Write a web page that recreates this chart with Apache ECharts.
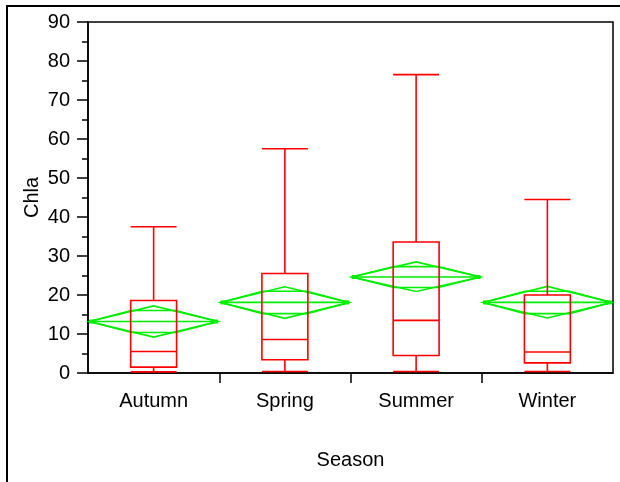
<!DOCTYPE html>
<html>
<head>
<meta charset="utf-8">
<script src="https://cdn.jsdelivr.net/npm/echarts@6/dist/echarts.min.js"></script>
<style>html,body{margin:0;padding:0;background:#fff;}#chart{width:620px;height:482px;}</style>
</head>
<body>
<div id="chart"></div>
<script>
var categories = ['Autumn', 'Spring', 'Summer', 'Winter'];
var boxMin = [0.3, 0.4, 0.4, 0.4];
var boxQ1 = [1.5, 3.4, 4.5, 2.6];
var boxMedian = [5.5, 8.6, 13.5, 5.4];
var boxQ3 = [18.6, 25.5, 33.6, 20.0];
var boxMax = [37.5, 57.5, 76.5, 44.5];
var means = [13.2, 18.1, 24.6, 18.1];
var ciLower = [9.2, 14.0, 20.9, 14.1];
var ciUpper = [17.2, 22.1, 28.5, 22.2];
var yTicks = [0, 10, 20, 30, 40, 50, 60, 70, 80, 90];

var RED = '#ff0000';
var GREEN = '#00ee00';
var FONT = "'Liberation Sans', Arial, sans-serif";

var boxData = categories.map(function (c, i) {
  return [i + 0.5, boxMin[i], boxQ1[i], boxMedian[i], boxQ3[i], boxMax[i]];
});
var diamondData = categories.map(function (c, i) {
  return [i + 0.5, means[i], ciLower[i], ciUpper[i]];
});

function line(x1, y1, x2, y2, color) {
  return { type: 'line', shape: { x1: x1, y1: y1, x2: x2, y2: y2 },
    style: { stroke: color, lineWidth: 1.6 } };
}

function renderBox(params, api) {
  var x = api.value(0);
  var half = api.size([0.175, 0])[0];
  var cx = api.coord([x, 0])[0];
  var yMin = api.coord([x, api.value(1)])[1];
  var yQ1 = api.coord([x, api.value(2)])[1];
  var yMed = api.coord([x, api.value(3)])[1];
  var yQ3 = api.coord([x, api.value(4)])[1];
  var yMax = api.coord([x, api.value(5)])[1];
  return { type: 'group', children: [
    { type: 'rect', shape: { x: cx - half, y: yQ3, width: 2 * half, height: yQ1 - yQ3 },
      style: { fill: null, stroke: RED, lineWidth: 1.6 } },
    line(cx - half, yMed, cx + half, yMed, RED),
    line(cx, yQ3, cx, yMax, RED),
    line(cx, yQ1, cx, yMin, RED),
    line(cx - half, yMax, cx + half, yMax, RED),
    line(cx - half, yMin, cx + half, yMin, RED)
  ]};
}

function renderDiamond(params, api) {
  var x = api.value(0);
  var m = api.value(1), lo = api.value(2), hi = api.value(3);
  var cx = api.coord([x, m])[0];
  var ym = api.coord([x, m])[1];
  var hw = api.size([0.49, 0])[0];
  var ow = api.size([0.17, 0])[0];
  var yHi = api.coord([x, hi])[1];
  var yLo = api.coord([x, lo])[1];
  var d = (hi - lo) / 2 / Math.SQRT2;
  var yOvHi = api.coord([x, m + d])[1];
  var yOvLo = api.coord([x, m - d])[1];
  var L = cx - hw, R = cx + hw;
  return { type: 'group', children: [
    { type: 'polygon', shape: { points: [[L, ym], [cx, yHi], [R, ym], [cx, yLo]] },
      style: { fill: null, stroke: GREEN, lineWidth: 1.6 } },
    { type: 'polyline', shape: { points: [[L, ym], [cx - ow, yOvHi], [cx + ow, yOvHi], [R, ym]] },
      style: { fill: null, stroke: GREEN, lineWidth: 1.6 } },
    { type: 'polyline', shape: { points: [[L, ym], [cx - ow, yOvLo], [cx + ow, yOvLo], [R, ym]] },
      style: { fill: null, stroke: GREEN, lineWidth: 1.6 } },
    line(L, ym, R, ym, GREEN),
    { type: 'rect', shape: { x: L, y: ym - 2, width: 6, height: 4 }, style: { fill: GREEN } },
    { type: 'rect', shape: { x: R - 6, y: ym - 2, width: 6, height: 4 }, style: { fill: GREEN } }
  ]};
}

var chart = echarts.init(document.getElementById('chart'), null, { renderer: 'canvas' });
chart.setOption({
  animation: false,
  backgroundColor: '#fff',
  textStyle: { fontFamily: FONT },
  grid: { left: 88, top: 22, width: 525, height: 351, show: true,
    borderColor: '#000', borderWidth: 1.5, backgroundColor: 'transparent' },
  graphic: [
    { type: 'rect', shape: { x: 7, y: 6, width: 700, height: 600 }, z: 100,
      style: { fill: null, stroke: '#000', lineWidth: 2 } }
  ],
  xAxis: {
    type: 'value', min: 0, max: 4,
    name: 'Season', nameLocation: 'middle', nameGap: 77,
    nameTextStyle: { fontSize: 20, color: '#000', fontFamily: FONT },
    axisLine: { show: true, lineStyle: { color: '#000', width: 1.5 } },
    axisTick: { show: true, length: 10, customValues: [1, 2, 3], lineStyle: { color: '#000', width: 1.5 } },
    axisLabel: { show: true, customValues: [0.5, 1.5, 2.5, 3.5], margin: 18, fontSize: 20, color: '#000', fontFamily: FONT,
      formatter: function (v) { return categories[Math.round(v - 0.5)] || ''; } },
    splitLine: { show: false }
  },
  yAxis: {
    type: 'value', min: yTicks[0], max: yTicks[yTicks.length - 1], interval: 10,
    name: 'Chla', nameLocation: 'middle', nameGap: 46, nameRotate: 90, nameMoveOverlap: false,
    nameTextStyle: { fontSize: 20, color: '#000', fontFamily: FONT },
    axisLine: { show: true, lineStyle: { color: '#000', width: 1.5 } },
    axisTick: { show: true, length: 11, lineStyle: { color: '#000', width: 1.5 } },
    minorTick: { show: true, splitNumber: 2, length: 6, lineStyle: { color: '#000', width: 1.5 } },
    axisLabel: { margin: 18, fontSize: 20, color: '#000', fontFamily: FONT },
    splitLine: { show: false }
  },
  series: [
    { type: 'custom', renderItem: renderDiamond, data: diamondData, z: 2,
      encode: { x: 0, y: [1, 2, 3] } },
    { type: 'custom', renderItem: renderBox, data: boxData, z: 3,
      encode: { x: 0, y: [1, 2, 3, 4, 5] } }
  ]
});
</script>
</body>
</html>
